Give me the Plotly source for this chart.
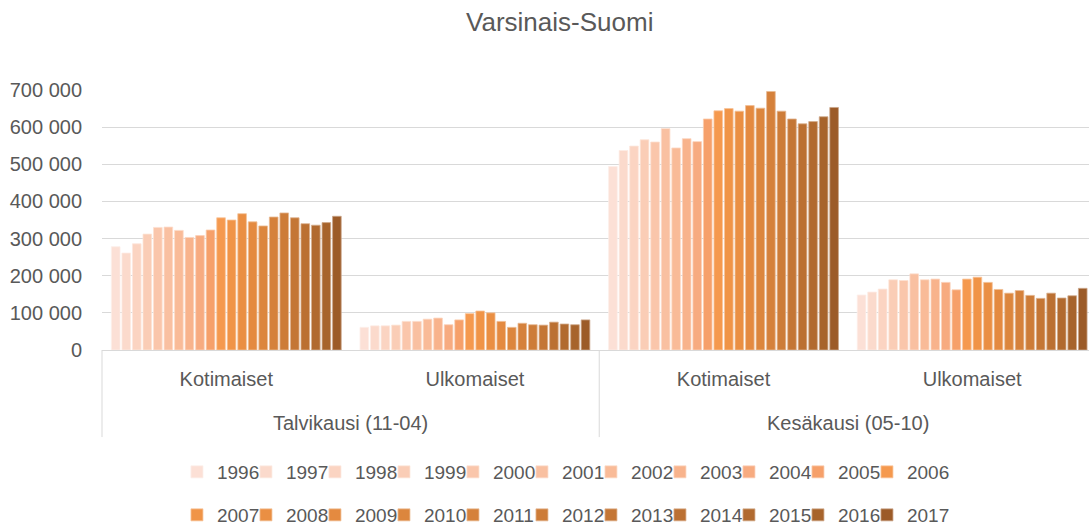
import plotly.graph_objects as go

years = [str(y) for y in range(1996, 2018)]
seasons = ["Talvikausi (11-04)", "Kesäkausi (05-10)"]
groups = ["Kotimaiset", "Ulkomaiset"]
categories = [s + " | " + g for s in seasons for g in groups]
category_labels = [g for s in seasons for g in groups]

winter_domestic = [278000, 261000, 286000, 312000, 330000, 331000, 322000, 303000, 308000, 323000, 356000,
                   350000, 367000, 345000, 334000, 358000, 369000, 356000, 340000, 336000, 343000, 360000]
winter_foreign = [61000, 65000, 65000, 67000, 77000, 77000, 83000, 86000, 68000, 81000, 98000,
                  105000, 100000, 77000, 61000, 72000, 68000, 67000, 75000, 70000, 68000, 81000]
summer_domestic = [494000, 537000, 549000, 566000, 560000, 596000, 544000, 569000, 561000, 622000, 644000,
                   650000, 643000, 658000, 651000, 696000, 643000, 622000, 609000, 615000, 628000, 653000]
summer_foreign = [148000, 156000, 164000, 189000, 187000, 205000, 189000, 191000, 182000, 162000, 191000,
                  196000, 182000, 163000, 153000, 160000, 147000, 139000, 153000, 140000, 146000, 166000]

colors = ["#FCE0D6", "#FBDACC", "#FBD4C2", "#FACDB6", "#FAC6AB", "#F9C0A1", "#F9BB98", "#F8B38C",
          "#F7AB80", "#F6A06A", "#F5994E", "#F09447", "#EA8F43", "#E48A40", "#DC863D", "#D5813B",
          "#CD7C38", "#C47635", "#BB7032", "#B16A2F", "#A7642C", "#9C5B28"]

TXT = "#595959"
GRID = "#D9D9D9"
FONT = "Liberation Sans, Arial, sans-serif"
X_RANGE = [-0.5, 3.47]


def lighten(hex_color, f=0.45):
    r, g, b = (int(hex_color[k:k + 2], 16) for k in (1, 3, 5))
    r, g, b = (round(c + (255 - c) * f) for c in (r, g, b))
    return f"rgb({r},{g},{b})"


fig = go.Figure()
for i, yr in enumerate(years):
    vals = [winter_domestic[i], winter_foreign[i], summer_domestic[i], summer_foreign[i]]
    fig.add_trace(go.Bar(
        x=categories, y=vals, name=yr,
        marker=dict(color=colors[i], line=dict(width=0.8, color=lighten(colors[i]))),
        legend="legend" if i < 11 else "legend2",
        hovertemplate="%{y}<extra>" + yr + "</extra>",
    ))

# invisible spacer entries so the last legend label of each row is not clipped
for lg in ["legend", "legend2"]:
    fig.add_trace(go.Scatter(x=[None], y=[None], mode="markers", name=" ", legend=lg, showlegend=True,
                             marker=dict(color="rgba(0,0,0,0)"), hoverinfo="skip"))

legend_common = dict(
    orientation="h", xref="container", yref="container", xanchor="left", yanchor="middle",
    font=dict(family=FONT, size=19, color=TXT), bgcolor="rgba(0,0,0,0)",
    entrywidth=24, itemwidth=30, traceorder="normal",
)

# vertical divider lines of the two-level category axis
span = X_RANGE[1] - X_RANGE[0]
for boundary in [-0.5, 1.5]:
    xp = (boundary - X_RANGE[0]) / span
    fig.add_shape(type="line", xref="paper", yref="paper", x0=xp, x1=xp, y0=0, y1=-0.335,
                  line=dict(color=GRID, width=1))

# outer-level category labels
for j, s in enumerate(seasons):
    fig.add_annotation(text=s, xref="x", yref="paper", x=2 * j + 0.5, y=-0.281,
                       xanchor="center", yanchor="middle", showarrow=False,
                       font=dict(family=FONT, size=20, color=TXT))

fig.update_layout(
    width=1089, height=528,
    margin=dict(l=102, r=0, t=90, b=178),
    paper_bgcolor="white", plot_bgcolor="white",
    separators=", ",
    barmode="group", bargap=0.068, bargroupgap=0.18,
    title=dict(text="Varsinais-Suomi", x=0.514, xref="container", xanchor="center",
               y=0.958, yref="container", yanchor="middle",
               font=dict(family=FONT, size=26, color=TXT)),
    legend=dict(x=0.1625, y=1 - 472 / 528, **legend_common),
    legend2=dict(x=0.1625, y=1 - 515 / 528, **legend_common),
    xaxis=dict(
        type="category", range=X_RANGE,
        tickvals=categories, ticktext=category_labels,
        showline=True, linecolor=GRID, linewidth=1,
        ticks="", showgrid=False, ticklabelstandoff=11,
        tickfont=dict(family=FONT, size=20, color=TXT),
    ),
    yaxis=dict(
        range=[0, 700000], tickvals=[0, 100000, 200000, 300000, 400000, 500000, 600000, 700000],
        tickformat=",d", showgrid=True, gridcolor=GRID, gridwidth=1,
        zeroline=False, showline=False, ticks="", ticklabelstandoff=19,
        tickfont=dict(family=FONT, size=20, color=TXT),
    ),
)

fig.write_html("out.html", config={"displayModeBar": False},
               post_script="document.body.style.margin='0';")
